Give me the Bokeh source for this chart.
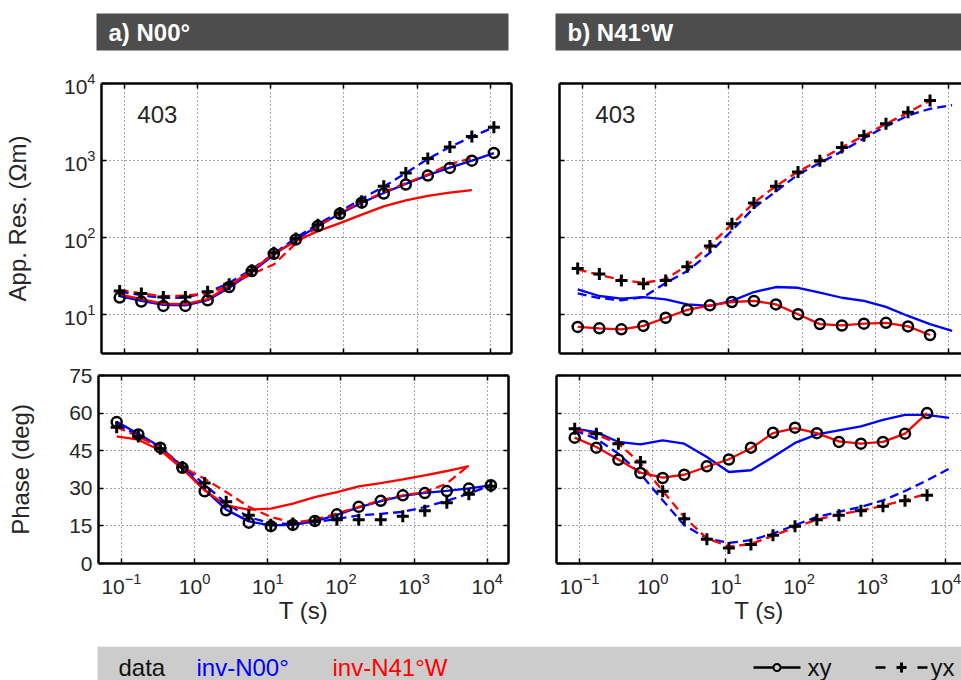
from bokeh.plotting import figure
from bokeh.layouts import column, row
from bokeh.models import Range1d, FixedTicker, LogAxis, LinearAxis, Label, CustomJSTickFormatter
from bokeh.embed import file_html
from bokeh.resources import INLINE
from bokeh.core.properties import value

FONT = "Liberation Sans"
TXT = "#262626"
BLUE = "#0000ff"
RED = "#ff0000"

# ---------------- data ----------------
period = [0.086, 0.17, 0.34, 0.68, 1.37, 2.7, 5.5, 11, 22, 44, 88, 175, 350,
          700, 1400, 2800, 5600, 11200]

# a) N00°  apparent resistivity (Ohm m)
a_rho_xy_data = [16.8, 14.9, 13.1, 13.1, 15.5, 23, 37, 62, 95, 142, 205, 285, 375, 490, 640, 805, 1000, 1260]
a_rho_yx_data = [20.4, 18.9, 17.1, 17.1, 20, 25, 38, 64, 98, 148, 210, 297, 465, 690, 1065, 1505, 2050, 2700]
a_rho_xy_inv00 = [17.5, 15.2, 13.5, 13.3, 15.5, 22.5, 36, 60, 95, 142, 205, 285, 380, 500, 650, 810, 1000, 1250]
a_rho_yx_inv00 = [20, 18, 16.5, 16.8, 19.5, 26, 39, 62, 100, 150, 220, 320, 460, 690, 1050, 1500, 2050, 2700]
a_rho_xy_inv41 = [18.5, 16, 14, 13.8, 16, 24, 38, 62, 90, 122, 155, 200, 255, 305, 350, 385, 415]
a_rho_yx_inv41 = [21, 19, 17.5, 17.8, 19, 24, 34, 45, 85, 140, 210, 290, 390, 510, 660, 900, 1080]

# b) N41°W apparent resistivity (Ohm m)
b_rho_xy_data = [7.0, 6.7, 6.5, 7.2, 9.2, 11.6, 13.3, 14.7, 15.2, 13.7, 10.2, 7.6, 7.3, 7.7, 7.9, 7.1, 5.5]
b_rho_yx_data = [40, 34, 28, 25.4, 28, 42, 78, 152, 283, 465, 710, 1000, 1480, 2100, 3000, 4250, 6000]
b_rho_xy_inv00 = [21.4, 17.6, 16.3, 17, 15.9, 13.7, 13.1, 15.2, 19.8, 23, 22.5, 19.4, 16.7, 15.2, 12.7, 9.7, 7.6, 6.2]
b_rho_yx_inv00 = [19, 16.5, 15.5, 17, 26, 37, 64, 124, 245, 400, 660, 935, 1320, 1950, 2780, 3850, 4700, 5250]
b_rho_xy_inv41 = [7.0, 6.7, 6.5, 7.2, 9.2, 11.6, 13.3, 14.7, 15.2, 13.7, 10.2, 7.6, 7.3, 7.7, 7.9, 7.1, 5.5]
b_rho_yx_inv41 = [39, 33, 28.5, 26, 29, 44, 80, 150, 285, 470, 720, 1020, 1500, 2100, 3000, 4200, 6000]

# a) N00°  phase (deg)
a_phi_xy_data = [56.4, 51.5, 46.2, 38.2, 28.8, 21.2, 16.3, 14.9, 15.4, 17.0, 19.6, 22.6, 25.0, 27.2, 28.1, 28.9, 29.9, 31.2]
a_phi_yx_data = [54.4, 50.7, 45.8, 38.5, 32.1, 24.6, 19.2, 15.5, 16, 17, 17.5, 17.5, 17.5, 18.8, 21.0, 24.2, 27.6, 30.8]
a_phi_xy_inv00 = [56.5, 51.8, 46.5, 38.5, 29.5, 21.5, 16.8, 15.2, 15.4, 16.8, 19.4, 22.4, 24.9, 27.0, 28.2, 29.0, 30.0, 31.2]
a_phi_yx_inv00 = [55.5, 51, 46, 39, 31.5, 24, 18.5, 16, 15.8, 16.5, 17.8, 19.2, 19.8, 20.6, 22.5, 25, 27.9, 31.2]
a_phi_xy_inv41 = [50.7, 49.4, 45.1, 37.8, 29.2, 23.2, 21.5, 21.9, 23.9, 26.5, 28.5, 30.8, 32.1, 33.6, 35.2, 36.9, 38.8]
a_phi_yx_inv41 = [54.4, 50.7, 46.2, 38.5, 33.8, 28.5, 22.6, 18.6, 16.2, 17.5, 19.9, 22.6, 25.2, 27.2, 28.5, 31.9, 39.2]

# b) N41°W phase (deg)
b_phi_xy_data = [50.2, 46.2, 41.4, 36.1, 34.1, 35.4, 38.8, 41.5, 46.2, 52.2, 54.2, 52.0, 48.5, 47.8, 48.5, 51.8, 60.0]
b_phi_yx_data = [53.8, 51.8, 47.8, 40.5, 28.8, 17.9, 9.7, 6.2, 7.6, 11.3, 14.9, 17.5, 19.2, 21.0, 22.8, 25.0, 27.2]
b_phi_xy_inv00 = [53.8, 52.4, 48.5, 47.5, 49.1, 47.8, 42.5, 36.5, 37.2, 42.5, 48.1, 51.5, 53.1, 54.7, 57.3, 59.3, 59.3, 58.1]
b_phi_yx_inv00 = [53.1, 49.8, 43.8, 35.8, 25.2, 15.3, 10, 8.2, 9.3, 11.9, 15.3, 18.6, 20.6, 22.6, 25.2, 28.9, 33.2, 37.8]
b_phi_xy_inv41 = [50.2, 46.5, 41.5, 36.3, 34.3, 35.4, 38.6, 41.6, 46.0, 52.0, 54.0, 52.0, 48.7, 47.8, 48.5, 51.8, 60.0]
b_phi_yx_inv41 = [53.5, 51.5, 47.8, 40, 29, 18.5, 10, 6.8, 7.8, 11, 14.5, 17.5, 19.5, 21.2, 23, 25.3, 27.8]

x_ticks = [0.1, 1, 10, 100, 1000, 10000]
rho_ticks = [10, 100, 1000, 10000]
phi_ticks = [0, 15, 30, 45, 60, 75]
site_label = "403"
panel_titles = ["a) N00°", "b) N41°W"]
legend_words = ["data", "inv-N00°", "inv-N41°W"]

# ---------------- helpers ----------------
def style_axis(ax, ticks, show_labels):
    ax.ticker = FixedTicker(ticks=ticks)
    ax.axis_line_width = 2.5
    ax.axis_line_color = "black"
    ax.major_tick_in = 5
    ax.major_tick_out = 0
    ax.major_tick_line_width = 1.5
    ax.minor_tick_in = 0
    ax.minor_tick_out = 0
    ax.major_label_text_font = FONT
    ax.major_label_text_color = TXT
    if show_labels:
        ax.major_label_text_font_size = "21px"
        ax.major_label_standoff = 6
    else:
        ax.formatter = CustomJSTickFormatter(code="return ''")
        ax.major_label_text_font_size = "1px"
        ax.major_label_standoff = 0


def make_panel(left, top, x_end, y_log, y_range, frame_w, frame_h, mb):
    p = figure(
        x_axis_type="log", y_axis_type="log" if y_log else "linear",
        x_range=Range1d(10 ** -1.314, x_end), y_range=y_range,
        frame_width=frame_w, frame_height=frame_h,
        min_border_left=mb[0], min_border_right=mb[1],
        min_border_top=mb[2], min_border_bottom=mb[3],
        output_backend="svg", toolbar_location=None,
        background_fill_color="white", border_fill_color="white",
        outline_line_color=None,
    )
    yt = rho_ticks if y_log else phi_ticks
    bottom_axis = p.below[0]
    left_axis = p.left[0]
    style_axis(bottom_axis, x_ticks, not top)
    style_axis(left_axis, yt, left)
    ax_top = LogAxis()
    style_axis(ax_top, x_ticks, False)
    p.add_layout(ax_top, "above")
    if left:
        ax_r = LogAxis() if y_log else LinearAxis()
        style_axis(ax_r, yt, False)
        p.add_layout(ax_r, "right")
    p.grid.grid_line_color = "#505050"
    p.grid.grid_line_dash = "1 3"
    p.grid.grid_line_width = 1
    return p, bottom_axis, left_axis


def draw(p, xy_data, yx_data, xy00, yx00, xy41, yx41):
    p.line(period[:len(xy00)], xy00, line_color=BLUE, line_width=2.3)
    p.line(period[:len(yx00)], yx00, line_color=BLUE, line_width=2.3, line_dash="9 5")
    p.line(period[:len(xy41)], xy41, line_color=RED, line_width=2.3)
    p.line(period[:len(yx41)], yx41, line_color=RED, line_width=2.3, line_dash="9 5")
    p.scatter(period[:len(yx_data)], yx_data, marker="cross", size=12,
              line_color="black", line_width=3)
    p.scatter(period[:len(xy_data)], xy_data, marker="circle", size=10,
              fill_color=None, line_color="black", line_width=2.5)


def axis_label(ax, text, standoff):
    ax.axis_label = text
    ax.axis_label_text_font = FONT
    ax.axis_label_text_font_size = "24px"
    ax.axis_label_text_font_style = "normal"
    ax.axis_label_text_color = TXT
    ax.axis_label_standoff = standoff


# ---------------- panels ----------------
RHO_RANGE = (10 ** 0.5, 10 ** 4)
XL_END = 10 ** 4.29
XR_END = 10 ** 4.219
tl, tl_b, tl_l = make_panel(True, True, XL_END, True, Range1d(*RHO_RANGE), 410, 270, (98, 28, 25, 8))
tr, tr_b, tr_l = make_panel(False, True, XR_END, True, Range1d(*RHO_RANGE), 405, 270, (20, 0, 25, 8))
bl, bl_b, bl_l = make_panel(True, False, XL_END, False, Range1d(0, 75), 410, 188, (98, 28, 14, 83))
br, br_b, br_l = make_panel(False, False, XR_END, False, Range1d(0, 75), 405, 188, (20, 0, 14, 83))

draw(tl, a_rho_xy_data, a_rho_yx_data, a_rho_xy_inv00, a_rho_yx_inv00, a_rho_xy_inv41, a_rho_yx_inv41)
draw(tr, b_rho_xy_data, b_rho_yx_data, b_rho_xy_inv00, b_rho_yx_inv00, b_rho_xy_inv41, b_rho_yx_inv41)
draw(bl, a_phi_xy_data, a_phi_yx_data, a_phi_xy_inv00, a_phi_yx_inv00, a_phi_xy_inv41, a_phi_yx_inv41)
draw(br, b_phi_xy_data, b_phi_yx_data, b_phi_xy_inv00, b_phi_yx_inv00, b_phi_xy_inv41, b_phi_yx_inv41)

axis_label(tl_l, "App. Res. (Ωm)", 30)
axis_label(bl_l, "Phase (deg)", 32)
axis_label(bl_b, "T (s)", 0)
axis_label(br_b, "T (s)", 0)
for ax in (bl_b, br_b):
    ax.major_label_standoff = 9

for p in (tl, tr):
    p.add_layout(Label(x=0.15, y=4000, text=site_label, text_font=FONT,
                       text_font_size="24px", text_color=TXT,
                       text_baseline="alphabetic"))

# ---------------- header (panel titles) ----------------
W = 961
HH = 58
hdr = figure(frame_width=W, frame_height=HH, x_range=Range1d(0, W), y_range=Range1d(0, HH),
             min_border=0, x_axis_location=None, y_axis_location=None,
             output_backend="svg", toolbar_location=None, outline_line_color=None)
hdr.grid.visible = False
hdr.quad(left=[96, 555], right=[508, W], bottom=[8, 8], top=[45, 45],
         fill_color="#4d4d4d", line_color=None)
hdr.text(x=[108, 567], y=[26.5, 26.5], text=panel_titles, text_font=value(FONT),
         text_font_style="bold", text_font_size="24px", text_color="white",
         text_baseline="middle")

# ---------------- legend bar ----------------
LH = 34
leg = figure(frame_width=W, frame_height=LH, x_range=Range1d(0, W), y_range=Range1d(0, LH),
             min_border=0, x_axis_location=None, y_axis_location=None,
             output_backend="svg", toolbar_location=None, outline_line_color=None)
leg.grid.visible = False
leg.quad(left=[97], right=[W], bottom=[0], top=[LH], fill_color="#cccccc", line_color=None)
leg.text(x=[118, 196, 332], y=[13, 13, 13], text=legend_words, text_font=value(FONT),
         text_font_size="24px", text_color=["#111111", BLUE, RED],
         text_baseline="alphabetic")
leg.segment(x0=[753], y0=[13], x1=[800], y1=[13], line_color="black", line_width=2.5)
leg.scatter(x=[776.5], y=[13], marker="circle", size=7, fill_color="#cccccc",
            line_color="black", line_width=2)
leg.segment(x0=[875, 917], y0=[13, 13], x1=[885, 927], y1=[13, 13],
            line_color="black", line_width=2.5)
leg.scatter(x=[901], y=[13], marker="cross", size=10, line_color="black", line_width=3)
leg.text(x=[807, 930], y=[13, 13], text=["xy", "yx"], text_font=value(FONT),
         text_font_size="24px", text_color="#111111", text_baseline="alphabetic")

layout = column(hdr, row(tl, tr), row(bl, br), leg)

open("out.html", "w").write(file_html(layout, INLINE))
